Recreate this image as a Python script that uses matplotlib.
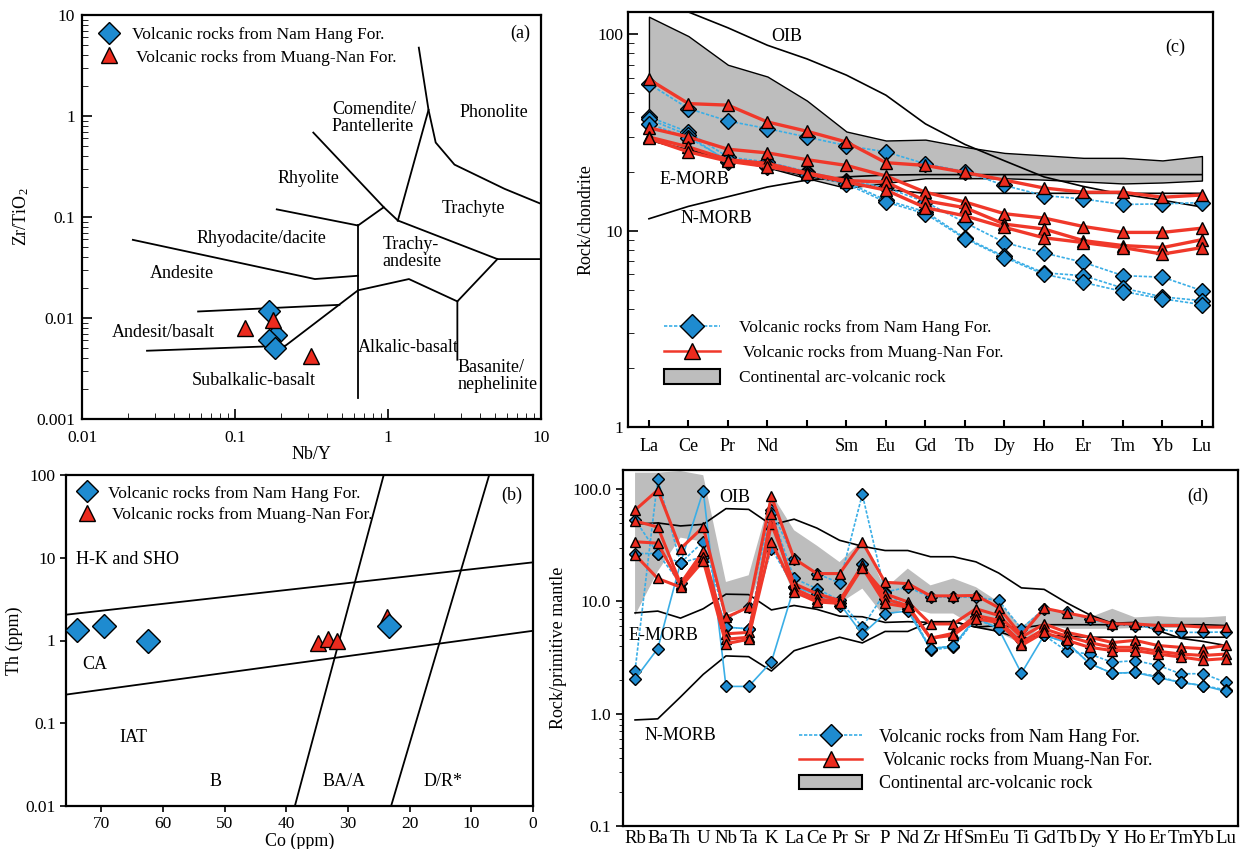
import matplotlib
matplotlib.use('Agg')
import matplotlib.pyplot as plt
from matplotlib.lines import Line2D
from matplotlib.patches import Patch
from matplotlib.ticker import FuncFormatter, LogLocator, NullLocator, MultipleLocator

plt.rcParams['font.family'] = ['Liberation Serif', 'DejaVu Serif']
plt.rcParams['mathtext.default'] = 'regular'
plt.rcParams['xtick.labelsize'] = 12.5
plt.rcParams['ytick.labelsize'] = 12.5

blue_face = '#1e8bd0'
blue_line = '#3aaee6'
red_face = '#ec2b1e'
red_line = '#f0382a'
band_col = '#bdbdbd'

######################
# DATA
######################
# (a) Nb/Y vs Zr/TiO2
a_nam_x = [0.168, 0.184, 0.168, 0.183]
a_nam_y = [0.0116, 0.0068, 0.0061, 0.0050]
a_muang_x = [0.117, 0.178, 0.313]
a_muang_y = [0.0079, 0.0095, 0.0042]
a_bounds = [
    ([0.0215, 0.333, 0.637], [0.0594, 0.0243, 0.0262]),
    ([0.1875, 0.637], [0.119, 0.0824]),
    ([0.637, 0.637], [0.0824, 0.0016]),
    ([0.325, 0.938], [0.685, 0.125]),
    ([0.637, 0.938, 1.16], [0.0824, 0.125, 0.0923]),
    ([1.59, 1.84, 2.05, 2.72, 5.78, 10], [4.75, 1.15, 0.546, 0.33, 0.19, 0.135]),
    ([1.84, 1.16], [1.15, 0.0923]),
    ([1.16, 5.19, 10], [0.0923, 0.0383, 0.0383]),
    ([5.19, 2.84, 2.84], [0.0383, 0.0146, 0.00386]),
    ([2.84, 1.37, 0.637, 0.211], [0.0146, 0.0243, 0.0188, 0.00524]),
    ([0.0574, 0.481], [0.0116, 0.0135]),
    ([0.0266, 0.211], [0.00474, 0.00531]),
]

# (b) Co vs Th
b_nam_co = [73.9, 69.5, 62.4, 23.3]
b_nam_th = [1.33, 1.48, 1.0, 1.48]
b_muang_co = [34.9, 33.2, 31.7, 23.6]
b_muang_th = [0.93, 1.05, 0.98, 1.9]
b_bounds = [
    ([75.7, 0], [2.05, 8.8]),
    ([75.7, 0], [0.222, 1.31]),
    ([38.6, 24.2], [0.01, 100]),
    ([23.0, 7.1], [0.01, 100]),
]

# (c) chondrite-normalised REE (Pm slot kept blank on the axis)
ree = ['La', 'Ce', 'Pr', 'Nd', '', 'Sm', 'Eu', 'Gd', 'Tb', 'Dy', 'Ho', 'Er', 'Tm', 'Yb', 'Lu']
c_oib = [156, 130, 108, 88, 75, 62, 49, 35, 27.5, 22.7, 18.8, 16.8, 15.3, 14.3, 13.2]
c_emorb = [29, 25.5, 23, 21, 19, 17.5, 16.2, 15.5, 15.5, 15.5, 15.5, 15.5, 15.5, 15.5, 15.5]
c_nmorb = [11.5, 13.3, 14.9, 16.7, 18.1, 18.8, 19.2, 19.3, 19.3, 19.3, 19.3, 19.3, 19.3, 19.3, 19.3]
c_band_up = [123, 98, 70, 61, 46, 32, 28.8, 29.1, 26.7, 24.9, 24.2, 23.5, 23.5, 22.8, 24]
c_band_low = [29, 26, 23.5, 21, 18.5, 16.5, 17.5, 18.5, 18.5, 18.5, 18.2, 17.8, 17.4, 17.6, 18]
c_muang = [
    [59, 44.4, 43.6, 35.8, 32.1, 28.3, 22.2, 21.5, 19.8, 18.1, 16.5, 15.7, 15.7, 14.8, 15.2],
    [33.4, 30, 26, 24.9, 23.0, 21.5, 19.0, 15.7, 14.0, 12.2, 11.6, 10.5, 9.8, 9.8, 10.3],
    [30, 26.7, 23, 22, 19.7, 18, 17.7, 14.2, 13.1, 10.8, 10.2, 8.9, 8.4, 8.2, 9.0],
    [29.5, 25.2, 22.6, 21.2, 19.5, 17.7, 16.1, 13.1, 11.9, 10.4, 9.2, 8.7, 8.2, 7.6, 8.2],
]
c_nam = [
    [56, 41.9, 36.2, 33.1, 30, 27.1, 25.2, 21.9, 20, 17, 15.1, 14.5, 13.6, 13.7, 13.9],
    [38, 31.8, 23.7, 22.4, 20, 18, 16.6, 14, 11.0, 8.7, 7.7, 6.9, 5.9, 5.8, 4.95],
    [37, 30.6, 22.4, 21.5, 19.6, 17.7, 14.3, 12.5, 9.2, 7.4, 6.1, 5.9, 5.1, 4.6, 4.4],
    [35, 29.8, 22.8, 21, 19.3, 17.3, 14.0, 12.2, 9.1, 7.3, 6.0, 5.45, 4.9, 4.5, 4.2],
]

# (d) primitive-mantle-normalised spider
spider = ['Rb', 'Ba', 'Th', 'U', 'Nb', 'Ta', 'K', 'La', 'Ce', 'Pr', 'Sr', 'P', 'Nd', 'Zr',
          'Hf', 'Sm', 'Eu', 'Ti', 'Gd', 'Tb', 'Dy', 'Y', 'Ho', 'Er', 'Tm', 'Yb', 'Lu']
d_oib = [48.8, 50, 47, 48.6, 67, 66, 48, 54, 45, 35, 31, 28.4, 28.4, 25, 25, 22.5, 17.9,
         13.2, 12.8, 9.7, 7.6, 6.4, 6.5, 5.5, 4.7, 4.4, 4.05]
d_emorb = [7.9, 8.2, 7.1, 8.6, 11.6, 11.5, 8.4, 9.2, 8.5, 7.4, 7.3, 6.5, 6.6, 6.5, 6.6, 5.9,
           5.4, 4.6, 5.0, 4.9, 4.8, 4.8, 4.8, 4.8, 4.8, 4.8, 4.8]
d_nmorb = [0.88, 0.9, 1.41, 2.24, 3.27, 3.22, 2.4, 3.64, 4.2, 4.8, 4.27, 5.4, 5.4, 6.6, 6.6,
           5.9, 6.1, 5.8, 6.2, 6.2, 6.2, 6.2, 6.2, 6.2, 6.2, 6.2, 6.1]
d_band_up = [140, 140, 145, 133, 14.9, 17.1, 91, 43, 31.4, 22.4, 35, 13, 19.6, 13.9, 16,
             13.4, 9.9, 5.9, 8.7, 8.0, 7.2, 8.6, 7.2, 7.4, 7.2, 7.2, 7.4]
d_band_low = [7.5, 18.5, 37, 34, 7.8, 8.9, 35, 11.3, 10.2, 9.6, 13, 7.2, 8.9, 7.8, 7.8, 5.9,
              5.3, 4.2, 6.3, 5.7, 5.7, 5.7, 5.8, 5.8, 5.8, 5.9, 5.9]
d_muang = [
    [65, 98, 29.5, 46, 7.2, 8.9, 86, 24, 17.7, 17.7, 33.9, 14.8, 14.4, 11.2, 11.2, 11.3, 8.8,
     5.0, 8.7, 7.9, 7.2, 6.3, 6.3, 6.1, 6.1, 5.9, 5.9],
    [52, 46, 14.4, 28, 5.15, 5.3, 49, 14.4, 11.7, 10.2, 20.2, 11.7, 9.9, 6.3, 6.3, 8.6, 7.5,
     4.8, 6.3, 5.3, 4.8, 4.3, 4.5, 4.05, 3.9, 3.8, 4.05],
    [34, 33, 14, 25, 4.6, 4.8, 34, 13, 10.5, 10, 21, 10.5, 9.2, 4.7, 5.2, 7.5, 6.8, 4.3, 5.7,
     4.9, 4.3, 3.9, 3.9, 3.6, 3.4, 3.3, 3.4],
    [26, 16, 13.4, 23, 4.2, 4.6, 60, 12.2, 9.9, 9.6, 20, 9.6, 8.9, 4.7, 5.0, 7.0, 6.5, 4.05,
     5.3, 4.5, 3.9, 3.65, 3.65, 3.4, 3.2, 3.0, 3.1],
]
d_nam = [
    [2.42, 123, 22, 34, 7.0, 8.9, 65, 24, 17.7, 14.6, 90, 12.1, 13.4, 10.9, 10.9, 10.9, 10.2,
     5.7, 8.6, 8.0, 7.0, 6.2, 6.1, 5.7, 5.3, 5.3, 5.35],
    [53.5, 26.7, 14.5, 25, 5.9, 5.7, 61, 16, 13, 10.2, 5.9, 12, 8.9, 3.8, 4.0, 7.2, 6.5, 4.5,
     5.0, 3.6, 3.4, 2.87, 2.97, 2.7, 2.27, 2.27, 1.9],
    [26.7, 26.7, 22, 25, 5.9, 5.7, 29.5, 13.4, 11.5, 9.1, 21.7, 10.5, 8.6, 3.7, 3.9, 7.0, 5.7,
     4.6, 5.0, 4.3, 2.8, 2.29, 2.33, 2.15, 1.90, 1.78, 1.63],
    [2.04, 3.8, 22, 96.6, 1.75, 1.75, 2.9, 13.4, 11.7, 9.6, 5.1, 7.8, 8.2, 3.8, 4.0, 7.2, 5.7,
     2.29, 5.0, 4.3, 2.8, 2.29, 2.33, 2.1, 1.9, 1.78, 1.58],
]

lab_nam = 'Volcanic rocks from Nam Hang For.'
lab_muang = ' Volcanic rocks from Muang-Nan For.'
lab_band = 'Continental arc-volcanic rock'

######################
# LAYOUT
######################
W, H = 1245, 849
fig = plt.figure(figsize=(W / 100, H / 100), dpi=100)


def box(l, t, r, b):
    return [l / W, 1 - b / H, (r - l) / W, (b - t) / H]


axA = fig.add_axes(box(82, 15, 541, 419))
axB = fig.add_axes(box(66, 475, 533, 806))
axC = fig.add_axes(box(628, 12, 1213, 427))
axD = fig.add_axes(box(623, 470, 1238, 826))

for ax in (axA, axB, axC, axD):
    for s in ax.spines.values():
        s.set_linewidth(1.6)

fmt_g = FuncFormatter(lambda v, _: f'{v:g}')
TS = 13  # region label size

######################
# (a)
######################
axA.set_xscale('log')
axA.set_yscale('log')
axA.set_xlim(0.01, 10)
axA.set_ylim(0.001, 10)
for xs, ys in a_bounds:
    axA.plot(xs, ys, color='k', lw=1.3)
axA.plot(a_nam_x, a_nam_y, ls='none', marker='D', ms=11, mfc=blue_face, mec='k', mew=1, zorder=5)
axA.plot(a_muang_x, a_muang_y, ls='none', marker='^', ms=12, mfc=red_face, mec='k', mew=1, zorder=6)
axA.xaxis.set_major_formatter(fmt_g)
axA.yaxis.set_major_formatter(fmt_g)
axA.tick_params(which='both', direction='in')
axA.tick_params(which='major', length=7, width=1.2)
axA.tick_params(which='minor', length=4)
axA.tick_params(axis='x', which='major', pad=8)
axA.tick_params(axis='y', which='major', pad=5)
axA.set_xlabel('Nb/Y', fontsize=13, labelpad=0)
axA.set_ylabel('Zr/TiO$_2$', fontsize=13, labelpad=4)
axA.text(0.81, 0.95, 'Comendite/\nPantellerite', fontsize=TS, ha='center', va='center', multialignment='left', linespacing=1.0)
axA.text(4.9, 1.08, 'Phonolite', fontsize=TS, ha='center', va='center')
axA.text(0.30, 0.239, 'Rhyolite', fontsize=TS, ha='center', va='center')
axA.text(3.6, 0.122, 'Trachyte', fontsize=TS, ha='center', va='center')
axA.text(0.15, 0.0618, 'Rhyodacite/dacite', fontsize=TS, ha='center', va='center')
axA.text(1.43, 0.0439, 'Trachy-\nandesite', fontsize=TS, ha='center', va='center', multialignment='left', linespacing=1.0)
axA.text(0.045, 0.0278, 'Andesite', fontsize=TS, ha='center', va='center')
axA.text(0.0339, 0.00726, 'Andesit/basalt', fontsize=TS, ha='center', va='center')
axA.text(1.35, 0.00515, 'Alkalic-basalt', fontsize=TS, ha='center', va='center')
axA.text(5.19, 0.00264, 'Basanite/\nnephelinite', fontsize=TS, ha='center', va='center', multialignment='left', linespacing=1.0)
axA.text(0.132, 0.00242, 'Subalkalic-basalt', fontsize=TS, ha='center', va='center')
axA.text(0.955, 0.955, '(a)', transform=axA.transAxes, fontsize=TS, ha='center', va='center')
hA = [Line2D([], [], ls='none', marker='D', ms=11, mfc=blue_face, mec='k'),
      Line2D([], [], ls='none', marker='^', ms=12, mfc=red_face, mec='k')]
axA.legend(hA, [lab_nam, lab_muang], loc='upper left', frameon=False, fontsize=12.5,
           handlelength=1.2, handletextpad=0.7, labelspacing=0.35, borderaxespad=0.3,
           bbox_to_anchor=(0.01, 1.0))

######################
# (b)
######################
axB.set_yscale('log')
axB.set_xlim(75.7, 0)
axB.set_ylim(0.01, 100)
for xs, ys in b_bounds:
    axB.plot(xs, ys, color='k', lw=1.3)
axB.plot(b_nam_co, b_nam_th, ls='none', marker='D', ms=12, mfc=blue_face, mec='k', mew=1, zorder=6)
axB.plot(b_muang_co, b_muang_th, ls='none', marker='^', ms=12, mfc=red_face, mec='k', mew=1, zorder=5)
axB.xaxis.set_major_locator(MultipleLocator(10))
axB.yaxis.set_minor_locator(NullLocator())
axB.yaxis.set_major_formatter(fmt_g)
axB.tick_params(which='major', direction='out', length=4, width=1.2)
axB.set_xlabel('Co (ppm)', fontsize=13, labelpad=0)
axB.set_ylabel('Th (ppm)', fontsize=13, labelpad=2)
axB.text(74, 9.6, 'H-K and SHO', fontsize=TS, ha='left', va='center')
axB.text(71.0, 0.51, 'CA', fontsize=TS, ha='center', va='center')
axB.text(64.8, 0.0667, 'IAT', fontsize=TS, ha='center', va='center')
axB.text(51.5, 0.0197, 'B', fontsize=TS, ha='center', va='center')
axB.text(30.6, 0.0197, 'BA/A', fontsize=TS, ha='center', va='center')
axB.text(14.6, 0.0197, 'D/R*', fontsize=TS, ha='center', va='center')
axB.text(0.955, 0.94, '(b)', transform=axB.transAxes, fontsize=TS, ha='center', va='center')
axB.legend(hA, [lab_nam, lab_muang], loc='upper left', frameon=False, fontsize=12.5,
           handlelength=1.2, handletextpad=0.6, labelspacing=0.3, borderaxespad=0.2)

######################
# (c)
######################
xc = list(range(len(ree)))
axC.set_yscale('log')
axC.set_xlim(-0.53, 14.28)
axC.set_ylim(1, 130)
axC.fill_between(xc, c_band_low, c_band_up, facecolor=band_col, edgecolor='k', lw=1.0, zorder=1)
for ref in (c_oib, c_emorb, c_nmorb):
    axC.plot(xc, ref, color='k', lw=1.2, zorder=2)
for s in c_nam:
    axC.plot(xc, s, color=blue_line, lw=1.2, dashes=(2, 1), marker='D', ms=8,
             mfc=blue_face, mec='k', mew=1, zorder=3)
for s in c_muang:
    axC.plot(xc, s, color=red_line, lw=2.4, marker='^', ms=8.5,
             mfc=red_face, mec='k', mew=1, zorder=4)
axC.set_xticks(xc)
axC.set_xticklabels(ree, fontsize=13)
axC.yaxis.set_major_formatter(fmt_g)
axC.tick_params(which='both', direction='in')
axC.tick_params(axis='y', which='major', length=7, width=1.2)
axC.tick_params(axis='y', which='minor', length=4)
axC.tick_params(axis='x', length=5, width=1.5, pad=8)
axC.set_ylabel('Rock/chondrite', fontsize=13, labelpad=2)
axC.text(3.5, 98, 'OIB', fontsize=TS, ha='center', va='center')
axC.text(1.15, 18.2, 'E-MORB', fontsize=TS, ha='center', va='center')
axC.text(1.7, 11.5, 'N-MORB', fontsize=TS, ha='center', va='center')
axC.text(0.935, 0.915, '(c)', transform=axC.transAxes, fontsize=TS, ha='center', va='center')
hC = [Line2D([], [], color=blue_line, lw=1.2, dashes=(2, 1), marker='D', ms=12, mfc=blue_face, mec='k'),
      Line2D([], [], color=red_line, lw=1.8, marker='^', ms=12, mfc=red_face, mec='k'),
      Patch(facecolor=band_col, edgecolor='k', lw=1.5)]
axC.legend(hC, [lab_nam, lab_muang, lab_band], loc='lower left', bbox_to_anchor=(0.035, 0.06),
           frameon=False, fontsize=12.5, handlelength=3.2, handleheight=0.9,
           handletextpad=1.1, labelspacing=0.45)

######################
# (d)
######################
xd = list(range(len(spider)))
axD.set_yscale('log')
axD.set_xlim(-0.53, 26.53)
axD.set_ylim(0.1, 148)
axD.fill_between(xd, d_band_low, d_band_up, facecolor=band_col, edgecolor='none', zorder=1)
for ref in (d_oib, d_emorb, d_nmorb):
    axD.plot(xd, ref, color='k', lw=1.2, zorder=2)
for i, s in enumerate(d_nam):
    axD.plot(xd, s, color=blue_line, lw=1.2, dashes=(2, 1) if i < 3 else (None, None),
             marker='D', ms=6.5, mfc=blue_face, mec='k', mew=1, zorder=3)
for s in d_muang:
    axD.plot(xd, s, color=red_line, lw=2.2, marker='^', ms=6.5,
             mfc=red_face, mec='k', mew=1, zorder=4)
axD.set_xticks(xd)
axD.set_xticklabels(spider, fontsize=13.5)
axD.yaxis.set_major_formatter(FuncFormatter(lambda v, _: f'{v:.1f}'))
axD.tick_params(axis='y', which='both', direction='out')
axD.tick_params(axis='y', which='major', length=5, width=1.2)
axD.tick_params(axis='y', which='minor', length=3)
axD.tick_params(axis='x', length=0, pad=3)
axD.set_ylabel('Rock/primitive mantle', fontsize=13, labelpad=4)
axD.text(4.4, 85, 'OIB', fontsize=TS, ha='center', va='center')
axD.text(1.23, 5.0, 'E-MORB', fontsize=TS, ha='center', va='center')
axD.text(2.0, 0.64, 'N-MORB', fontsize=TS, ha='center', va='center')
axD.text(0.935, 0.925, '(d)', transform=axD.transAxes, fontsize=TS, ha='center', va='center')
hD = [Line2D([], [], color=blue_line, lw=1.2, dashes=(2, 1), marker='D', ms=11, mfc=blue_face, mec='k'),
      Line2D([], [], color=red_line, lw=1.8, marker='^', ms=11, mfc=red_face, mec='k'),
      Patch(facecolor=band_col, edgecolor='k', lw=1.5)]
axD.legend(hD, [lab_nam, lab_muang, lab_band], loc='lower left', bbox_to_anchor=(0.26, 0.05),
           frameon=False, fontsize=13, handlelength=3.5, handleheight=0.8,
           handletextpad=0.9, labelspacing=0.3)

fig.savefig('out.png', dpi=100)
